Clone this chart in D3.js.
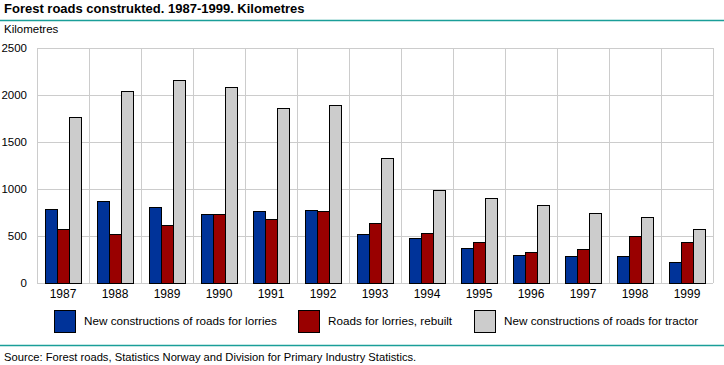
<!DOCTYPE html>
<meta charset="utf-8">
<style>
    body { margin: 0; background: #fff; }
    text { font-family: "Liberation Sans", Arial, sans-serif; fill: #000; }
    .grid line { stroke: #cccccc; stroke-width: 1px; shape-rendering: crispEdges; }
    .bar { stroke: #000; stroke-width: 1px; shape-rendering: crispEdges; }
</style>
<svg width="724" height="365"></svg>
<script src="https://cdn.jsdelivr.net/npm/d3@7"></script>
<script>
    var years = ["1987", "1988", "1989", "1990", "1991", "1992", "1993",
        "1994", "1995", "1996", "1997", "1998", "1999"];
    var lorriesNew = [784, 869, 805, 734, 766, 777, 521, 479, 372, 298, 287, 287, 223];
    var lorriesRebuilt = [571, 518, 614, 734, 681, 766, 641, 535, 439, 330, 362, 500, 439];
    var tractorNew = [1763, 2039, 2156, 2085, 1862, 1894, 1330, 989, 904, 830, 745, 702, 574];
    var seriesNames = ["New constructions of roads for lorries", "Roads for lorries, rebuilt",
        "New constructions of roads for tractor"];
    var yTicks = [0, 500, 1000, 1500, 2000, 2500];

    draw();
    function draw() {
        var colors = ["#003399", "#990000", "#cccccc"];
        var series = [lorriesNew, lorriesRebuilt, tractorNew];

        var svg = d3.select("svg");
        var plotLeft = 37, plotRight = 713, plotTop = 48, plotBottom = 283;

        var x = d3.scaleBand().domain(years).range([plotLeft, plotRight]);
        var y = d3.scaleLinear().domain([0, 2500]).range([plotBottom, plotTop]);

        // title + teal rules
        svg.append("text").attr("x", 4).attr("y", 13)
            .style("font-size", "13px").style("font-weight", "bold")
            .text("Forest roads construkted. 1987-1999. Kilometres");
        svg.append("line").attr("x1", 0).attr("x2", 724).attr("y1", 20.5).attr("y2", 20.5)
            .style("stroke", "#1a9e99").style("stroke-width", "1.5px");
        svg.append("text").attr("x", 4).attr("y", 33).style("font-size", "11.5px").text("Kilometres");

        // grid
        var grid = svg.append("g").attr("class", "grid");
        grid.selectAll("line.h").data(yTicks).enter().append("line")
            .attr("x1", plotLeft).attr("x2", plotRight)
            .attr("y1", function (d) { return Math.round(y(d)) + 0.5; })
            .attr("y2", function (d) { return Math.round(y(d)) + 0.5; });
        grid.selectAll("line.v").data(years.concat(["end"])).enter().append("line")
            .attr("x1", function (d, i) { return Math.round(plotLeft + i * x.bandwidth()) + 0.5; })
            .attr("x2", function (d, i) { return Math.round(plotLeft + i * x.bandwidth()) + 0.5; })
            .attr("y1", plotTop).attr("y2", plotBottom);

        // y labels
        svg.append("g").selectAll("text").data(yTicks).enter().append("text")
            .attr("x", 27).attr("y", function (d) { return y(d) + 4; })
            .attr("text-anchor", "end").style("font-size", "11.5px")
            .text(function (d) { return d; });

        // x labels
        svg.append("g").selectAll("text").data(years).enter().append("text")
            .attr("x", function (d) { return x(d) + x.bandwidth() / 2; })
            .attr("y", 298).attr("text-anchor", "middle").style("font-size", "12px")
            .text(function (d) { return d; });

        // bars
        var barW = 12, pad = 8;
        series.forEach(function (vals, s) {
            svg.append("g").selectAll("rect").data(vals).enter().append("rect")
                .attr("class", "bar")
                .attr("x", function (d, i) { return Math.round(x(years[i]) + pad + s * barW) + 0.5; })
                .attr("y", function (d) { return Math.round(y(d)) + 0.5; })
                .attr("width", barW)
                .attr("height", function (d) { return Math.round(plotBottom) - Math.round(y(d)); })
                .attr("fill", colors[s]);
        });

        // legend
        var legendX = [54, 298, 474];
        var legend = svg.append("g").selectAll("g").data(seriesNames).enter().append("g")
            .attr("transform", function (d, i) { return "translate(" + legendX[i] + ",310)"; });
        legend.append("rect").attr("class", "bar").attr("x", 0.5).attr("y", 0.5)
            .attr("width", 21).attr("height", 22)
            .attr("fill", function (d, i) { return colors[i]; });
        legend.append("text").attr("x", 30).attr("y", 15).style("font-size", "11.7px")
            .text(function (d) { return d; });

        // footer
        svg.append("line").attr("x1", 0).attr("x2", 724).attr("y1", 345.5).attr("y2", 345.5)
            .style("stroke", "#1a9e99").style("stroke-width", "1.5px");
        svg.append("text").attr("x", 4).attr("y", 361).style("font-size", "11.2px")
            .text("Source: Forest roads, Statistics Norway and Division for Primary Industry Statistics.");
    }
</script>
